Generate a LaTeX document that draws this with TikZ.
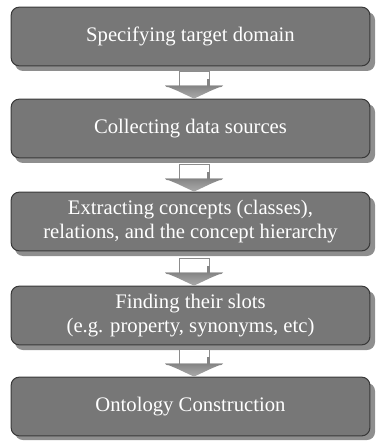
\documentclass[tikz,border=0pt]{standalone}
\usepackage{fontspec}
\setmainfont{Liberation Serif}
\usetikzlibrary{calc}
\definecolor{boxfill}{HTML}{777777}
\definecolor{boxline}{HTML}{3A3A3A}
\definecolor{boxshade}{HTML}{8E8E8E}
\definecolor{stemline}{HTML}{8C8C8C}
\definecolor{headdark}{HTML}{858585}
\definecolor{headlight}{HTML}{ABABAB}
\tikzset{
  stepbox/.style={draw=boxline, line width=0.8pt, fill=boxfill, rounded corners=6pt,
    minimum width=269pt, minimum height=44pt, inner sep=0pt, text=white,
    align=center, font=\fontsize{15.5}{17.5}\selectfont},
  boxshadow/.style={fill=boxshade, rounded corners=6pt},
  blockarrow/.pic={
    % hollow stem with a shaded right edge, then a flat wide head
    \fill[white] (-15,-27) rectangle (15,-13);
    \draw[stemline, line width=0.7pt] (-15,-13) -- (-15,-27) -- (15,-27) -- (15,-13);
    \fill[headdark] (12.5,-20) rectangle (15.5,-13);
    \shade[top color=headdark, bottom color=headlight]
      (-29,-13) -- (29,-13) -- (17,-8) -- (0,0) -- (-17,-8) -- cycle;
    \fill[headdark] (-29,-13) -- (29,-13) -- (27,-11.5) -- (-27,-11.5) -- cycle;
  }
}
\begin{document}
\begin{tikzpicture}[x=0.75pt, y=-0.75pt]
\useasboundingbox (0,0) rectangle (375,441);
% drop shadows behind the five steps
\foreach \t/\b in {7/66, 99/158, 192/251, 286/345, 378/435}{
  \fill[boxshadow] (15,\t+5) rectangle (375,\b+5);
}
\node[stepbox] (b1) at (190.5,36.5) {Specifying target domain};
\node[stepbox] (b2) at (190.5,128.5) {Collecting data sources};
\node[stepbox] (b3) at (190.5,221.5) {Extracting concepts (classes),\\relations, and the concept hierarchy};
\node[stepbox] (b4) at (190.5,315.5) {Finding their slots\\(e.g. property, synonyms, etc)};
\node[stepbox] (b5) at (190.5,406.5) {Ontology Construction};
% block arrows between consecutive steps
\foreach \u/\v in {b1/b2, b2/b3, b3/b4, b4/b5}{
  \pic at ($(\v.north)+(3.5,0)$) {blockarrow};
}
\end{tikzpicture}
\end{document}
